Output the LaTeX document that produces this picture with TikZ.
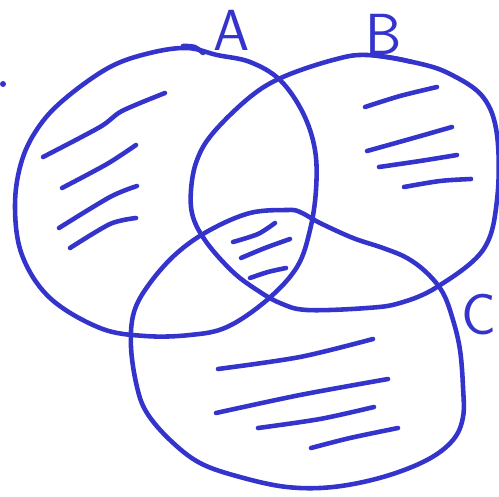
\documentclass[tikz,border=0pt]{standalone}
\usepackage{tikz}
\definecolor{penblue}{RGB}{52,52,204}

\begin{document}
\begin{tikzpicture}[x=0.02cm, y=-0.02cm,
    pen/.style={penblue, line width=2.6pt, line cap=round, line join=round},
    hatch/.style={pen},
    setname/.style={penblue, font=\sffamily\fontsize{33}{38}\selectfont, inner sep=0pt}]
    \useasboundingbox (0,0) rectangle (499,496);

    % Set A
    \draw[pen] plot[smooth cycle, tension=0.6] coordinates {
        (187,48) (217,55) (250,62) (280,80) (303,113) (315,150) (316,190)
        (310,230) (297,267) (267,300) (227,327) (190,335) (145,336) (100,328)
        (50,298) (22,255) (15,205) (22,160) (40,125) (67,97) (110,67) (150,53)};
    \draw[pen] (183,46) .. controls (195,46) .. (203,53);

    % Set B
    \draw[pen] plot[smooth cycle, tension=0.6] coordinates {
        (367,55) (417,63) (450,74) (483,97) (497,135) (497,200) (483,250)
        (437,287) (400,303) (367,308) (307,310) (280,303) (257,290) (233,272)
        (207,243) (193,217) (191,190) (197,160) (213,133) (250,97) (283,77)
        (333,60)};
    \draw[pen] (372,55) .. controls (395,58) .. (412,62);

    % Set C
    \draw[pen] plot[smooth cycle, tension=0.6] coordinates {
        (287,210) (300,212) (320,223) (353,238) (383,248) (407,258) (427,273)
        (443,293) (453,320) (460,350) (463,387) (463,417) (453,440) (427,460)
        (383,477) (333,487) (287,487) (240,477) (200,463) (170,440) (147,413)
        (137,387) (131,347) (134,312) (150,283) (177,253) (210,230) (250,213)};

    % Names
    \node[setname] (labA) at (232,30) {A};
    \node[setname] (labB) at (384,34) {B};
    \node[setname] (labC) at (479,315) {C};
    \fill[penblue] (3,84) circle (3);

    % Hatching in A only
    \draw[hatch] plot[smooth] coordinates {(43,157) (100,127) (122,111) (165,93)};
    \draw[hatch] plot[smooth] coordinates {(62,188) (107,164) (136,145)};
    \draw[hatch] plot[smooth] coordinates {(59,228) (110,197) (137,186)};
    \draw[hatch] plot[smooth] coordinates {(70,248) (110,224) (136,218)};

    % Hatching in B only
    \draw[hatch] plot[smooth] coordinates {(365,107) (400,96) (437,87)};
    \draw[hatch] plot[smooth] coordinates {(367,151) (410,139) (452,127)};
    \draw[hatch] plot[smooth] coordinates {(379,167) (420,161) (457,155)};
    \draw[hatch] plot[smooth] coordinates {(404,187) (440,181) (471,179)};

    % Hatching in A, B and C
    \draw[hatch] plot[smooth] coordinates {(233,242) (258,234) (275,223)};
    \draw[hatch] plot[smooth] coordinates {(241,258) (265,248) (290,239)};
    \draw[hatch] plot[smooth] coordinates {(250,278) (268,272) (286,268)};

    % Hatching in C only
    \draw[hatch] plot[smooth] coordinates {(218,369) (300,357) (373,339)};
    \draw[hatch] plot[smooth] coordinates {(216,413) (300,395) (388,379)};
    \draw[hatch] plot[smooth] coordinates {(258,428) (320,419) (374,407)};
    \draw[hatch] plot[smooth] coordinates {(311,448) (350,438) (398,428)};
\end{tikzpicture}
\end{document}
